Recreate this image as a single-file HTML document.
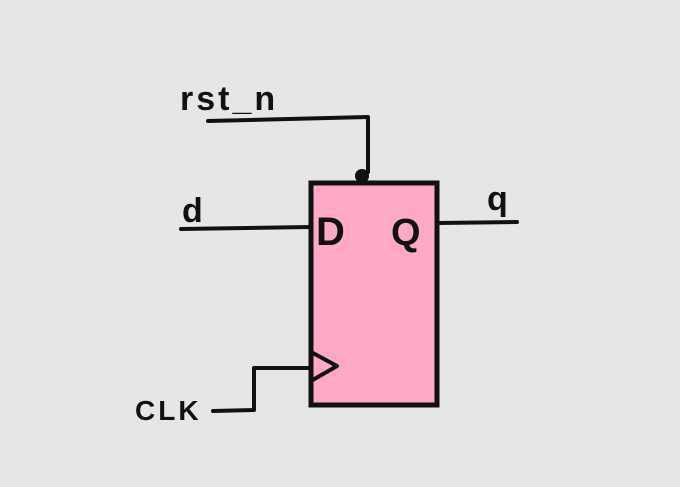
<!DOCTYPE html>
<html><head><style>
html,body{margin:0;padding:0;background:#e6e6e6;}
svg{display:block}
text{font-family:"Liberation Sans",sans-serif;fill:#111;}
</style></head><body>
<svg width="680" height="487" viewBox="0 0 680 487">
<rect width="680" height="487" fill="#e6e6e6"/>
<rect x="311" y="183" width="126" height="222" fill="#ffa8c8" stroke="#111" stroke-width="5"/>
<g stroke="#111" stroke-width="4" fill="none" stroke-linecap="round" stroke-linejoin="round">
<polyline points="208,121 368,117 368,172"/>
<line x1="181" y1="229" x2="310" y2="227"/>
<line x1="438" y1="223" x2="517" y2="222"/>
<polyline points="213,411 254,410 254,368 310,368"/>
<polyline points="311,352 337,366 311,381"/>
</g>
<circle cx="362" cy="176" r="7" fill="#111"/>
<text x="180" y="110" font-size="34" font-weight="bold" letter-spacing="3">rst_n</text>
<text x="182" y="222" font-size="34" font-weight="bold">d</text>
<text x="487" y="210" font-size="34" font-weight="bold">q</text>
<text x="135" y="420" font-size="28" font-weight="bold" letter-spacing="3">CLK</text>
<text x="316" y="245" font-size="40" font-weight="bold">D</text>
<text x="391" y="245" font-size="38" font-weight="bold">Q</text>
</svg>
</body></html>
